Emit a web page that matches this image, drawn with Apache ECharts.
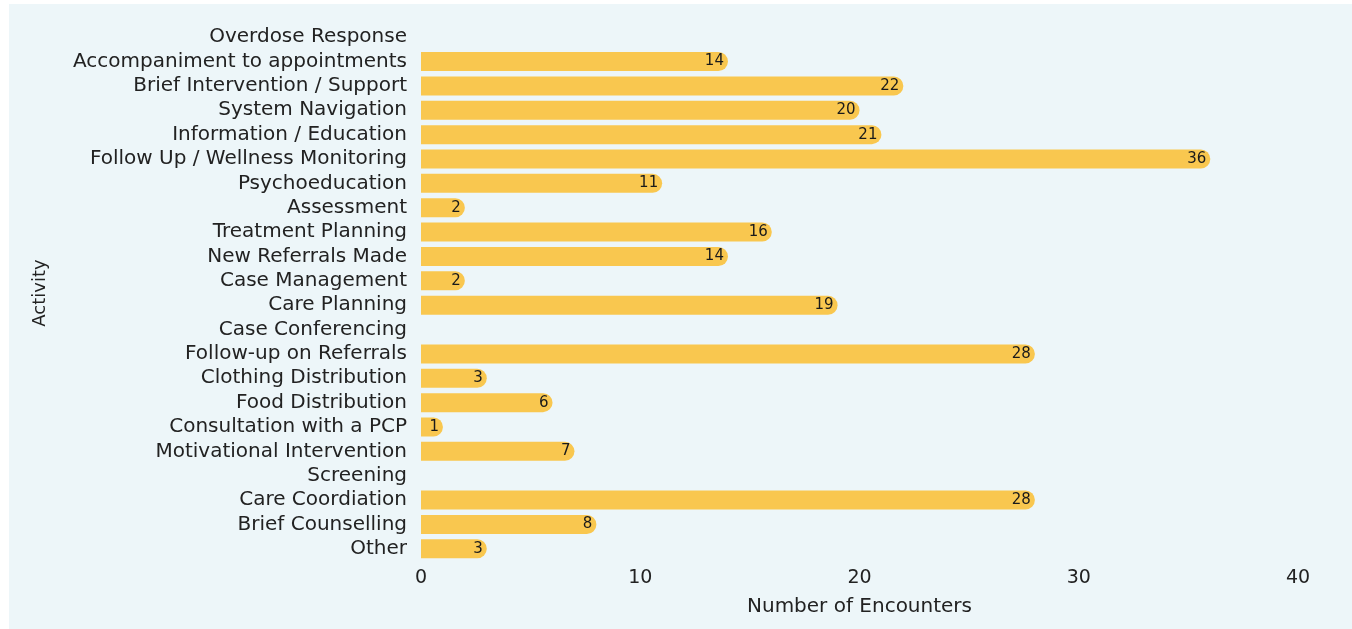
<!DOCTYPE html>
<html>
<head>
<meta charset="utf-8">
<script src="https://cdn.jsdelivr.net/npm/echarts@6/dist/echarts.min.js"></script>
<style>
  html, body { margin: 0; padding: 0; background: #ffffff; }
  #panel { position: absolute; left: 9px; top: 4px; width: 1343px; height: 625px; background: #edf6f9; }
  #chart { width: 1343px; height: 625px; }
</style>
</head>
<body>
<div id="panel"><div id="chart"></div></div>
<script>
// Activity categories, top to bottom
const activities = [
  'Overdose Response',
  'Accompaniment to appointments',
  'Brief Intervention / Support',
  'System Navigation',
  'Information / Education',
  'Follow Up / Wellness Monitoring',
  'Psychoeducation',
  'Assessment',
  'Treatment Planning',
  'New Referrals Made',
  'Case Management',
  'Care Planning',
  'Case Conferencing',
  'Follow-up on Referrals',
  'Clothing Distribution',
  'Food Distribution',
  'Consultation with a PCP',
  'Motivational Intervention',
  'Screening',
  'Care Coordiation',
  'Brief Counselling',
  'Other'
];

// Number of encounters per activity (null = no encounters recorded)
const encounters = [null, 14, 22, 20, 21, 36, 11, 2, 16, 14, 2, 19, null, 28, 3, 6, 1, 7, null, 28, 8, 3];

const xTicks = { min: 0, max: 40, interval: 10 };

const FONT = 'DejaVu Sans';
const TEXT = '#222222';

const chart = echarts.init(document.getElementById('chart'));
chart.setOption({
  animation: false,
  grid: { left: 412, right: 54, top: 21, bottom: 68, containLabel: false },
  xAxis: {
    type: 'value',
    min: xTicks.min, max: xTicks.max, interval: xTicks.interval,
    name: 'Number of Encounters',
    nameLocation: 'middle',
    nameGap: 36,
    nameTextStyle: { fontFamily: FONT, fontSize: 20, color: TEXT },
    axisLine: { show: false },
    axisTick: { show: false },
    splitLine: { show: false },
    axisLabel: { fontFamily: FONT, fontSize: 19, color: TEXT, margin: 8 }
  },
  yAxis: {
    type: 'category',
    data: activities,
    inverse: true,
    name: 'Activity',
    nameLocation: 'middle',
    nameGap: 372,
    nameRotate: 90,
    nameTextStyle: { fontFamily: FONT, fontSize: 18, color: TEXT },
    axisLine: { show: false },
    axisTick: { show: false },
    axisLabel: { fontFamily: FONT, fontSize: 20, color: TEXT, margin: 14, interval: 0 }
  },
  series: [{
    type: 'bar',
    data: encounters,
    barCategoryGap: '22%',
    itemStyle: { color: '#f9c74f', borderRadius: [0, 10, 10, 0] },
    label: {
      show: true,
      position: 'insideRight',
      distance: 4,
      fontFamily: FONT,
      fontSize: 15,
      color: '#1a1a1a',
      formatter: p => (p.value == null ? '' : p.value)
    }
  }]
});
</script>
</body>
</html>
